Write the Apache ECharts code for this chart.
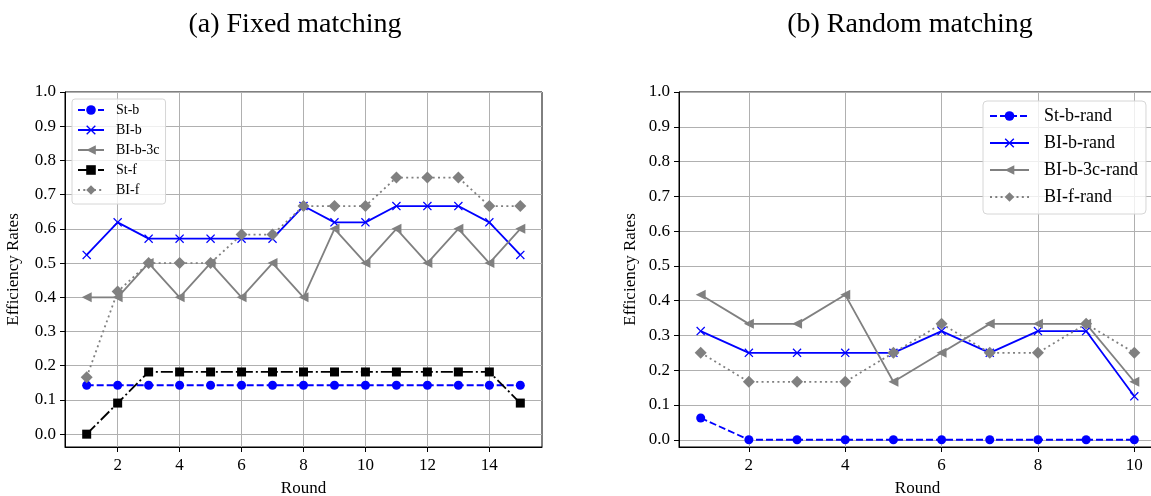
<!DOCTYPE html>
<html>
<head>
<meta charset="utf-8">
<script src="https://cdn.jsdelivr.net/npm/echarts@6/dist/echarts.min.js"></script>
<style>
  html, body { margin: 0; padding: 0; background: #fff; }
  #main { width: 1151px; height: 496px; }
</style>
</head>
<body>
<div id="main"></div>
<script>
// fixed matching, rounds 1..15
var roundsFixed = [1, 2, 3, 4, 5, 6, 7, 8, 9, 10, 11, 12, 13, 14, 15];
var stB   = [0.1429, 0.1429, 0.1429, 0.1429, 0.1429, 0.1429, 0.1429, 0.1429, 0.1429, 0.1429, 0.1429, 0.1429, 0.1429, 0.1429, 0.1429];
var biB   = [0.5238, 0.6190, 0.5714, 0.5714, 0.5714, 0.5714, 0.5714, 0.6667, 0.6190, 0.6190, 0.6667, 0.6667, 0.6667, 0.6190, 0.5238];
var biB3c = [0.4, 0.4, 0.5, 0.4, 0.5, 0.4, 0.5, 0.4, 0.6, 0.5, 0.6, 0.5, 0.6, 0.5, 0.6];
var stF   = [0.0, 0.0909, 0.1818, 0.1818, 0.1818, 0.1818, 0.1818, 0.1818, 0.1818, 0.1818, 0.1818, 0.1818, 0.1818, 0.1818, 0.0909];
var biF   = [0.1667, 0.4167, 0.5, 0.5, 0.5, 0.5833, 0.5833, 0.6667, 0.6667, 0.6667, 0.75, 0.75, 0.75, 0.6667, 0.6667];

// random matching, rounds 1..10
var roundsRand = [1, 2, 3, 4, 5, 6, 7, 8, 9, 10];
var stBRand    = [0.0625, 0, 0, 0, 0, 0, 0, 0, 0, 0];
var biBRand    = [0.3125, 0.25, 0.25, 0.25, 0.25, 0.3125, 0.25, 0.3125, 0.3125, 0.125];
var biB3cRand  = [0.4167, 0.3333, 0.3333, 0.4167, 0.1667, 0.25, 0.3333, 0.3333, 0.3333, 0.1667];
var biFRand    = [0.25, 0.1667, 0.1667, 0.1667, 0.25, 0.3333, 0.25, 0.25, 0.3333, 0.25];

var yTicks = [0, 0.1, 0.2, 0.3, 0.4, 0.5, 0.6, 0.7, 0.8, 0.9, 1.0];
var xTicksFixed = [2, 4, 6, 8, 10, 12, 14];
var xTicksRand = [2, 4, 6, 8, 10];

var serif = 'Liberation Serif';
var xMark = 'path://M0,1L1,0L5,4L9,0L10,1L6,5L10,9L9,10L5,6L1,10L0,9L4,5Z';
var triLeft = 'path://M0,5L9,0L9,10Z';

function pairs(xs, ys) {
    return xs.map(function (x, i) { return [x, ys[i]]; });
}

function mkSeries(name, idx, xs, ys, color, symbol, size, lineType) {
    return {
        name: name,
        type: 'line',
        xAxisIndex: idx,
        yAxisIndex: idx,
        data: pairs(xs, ys),
        symbol: symbol,
        symbolSize: size,
        showAllSymbol: true,
        itemStyle: { color: color },
        lineStyle: { color: color, width: 1.8, type: lineType },
        emphasis: { disabled: true }
    };
}

function mkX(idx, min, max, split, ticks) {
    return {
        type: 'value',
        gridIndex: idx,
        min: min,
        max: max,
        splitNumber: split,
        name: 'Round',
        nameLocation: 'middle',
        nameGap: 33,
        nameTextStyle: { fontFamily: serif, fontSize: 17, color: '#000' },
        axisLine: { onZero: false, lineStyle: { color: '#000', width: 1 } },
        axisTick: { show: true, length: 5, customValues: ticks, lineStyle: { color: '#000' } },
        axisLabel: { customValues: ticks, fontFamily: serif, fontSize: 17, color: '#000', margin: 10 },
        splitLine: { show: true, lineStyle: { color: '#b0b0b0', width: 1 } }
    };
}

function mkY(idx, min, gap) {
    return {
        type: 'value',
        gridIndex: idx,
        min: min,
        max: 1.0,
        splitNumber: 10,
        name: 'Efficiency Rates',
        nameLocation: 'middle',
        nameGap: gap,
        nameTextStyle: { fontFamily: serif, fontSize: 17, color: '#000' },
        axisLine: { show: true, lineStyle: { color: '#000', width: 1 } },
        axisTick: { show: true, length: 5, customValues: yTicks, lineStyle: { color: '#000' } },
        axisLabel: {
            customValues: yTicks, fontFamily: serif, fontSize: 17, color: '#000', margin: 9,
            formatter: function (v) { return v.toFixed(1); }
        },
        splitLine: { show: true, lineStyle: { color: '#b0b0b0', width: 1 } }
    };
}

var option = {
    animation: false,
    backgroundColor: '#fff',
    title: [
        { text: '(a) Fixed matching', left: 290, top: 6, textAlign: 'center',
          textStyle: { fontFamily: serif, fontSize: 28, fontWeight: 'normal', color: '#000' } },
        { text: '(b) Random matching', left: 905, top: 6, textAlign: 'center',
          textStyle: { fontFamily: serif, fontSize: 28, fontWeight: 'normal', color: '#000' } }
    ],
    grid: [
        { left: 65, right: 609, top: 92, bottom: 49, outerBoundsMode: 'none',
          show: true, borderColor: '#000', borderWidth: 1 },
        { left: 679, right: -5, top: 92, bottom: 49, outerBoundsMode: 'none',
          show: true, borderColor: '#000', borderWidth: 1 }
    ],
    legend: [
        {
            data: ['St-b', 'BI-b', 'BI-b-3c', 'St-f', 'BI-f'],
            orient: 'vertical', left: 72, top: 99,
            itemWidth: 26, itemHeight: 12, itemGap: 6,
            padding: [4, 6, 7, 5],
            borderColor: '#d6d6d6', borderWidth: 1, borderRadius: 3,
            backgroundColor: 'rgba(255,255,255,0.8)',
            textStyle: { fontFamily: serif, fontSize: 14, color: '#000', padding: [0, 0, 0, 7] }
        },
        {
            data: ['St-b-rand', 'BI-b-rand', 'BI-b-3c-rand', 'BI-f-rand'],
            orient: 'vertical', left: 983, top: 101,
            itemWidth: 39, itemHeight: 12, itemGap: 9,
            padding: [6, 8, 8, 6],
            borderColor: '#d6d6d6', borderWidth: 1, borderRadius: 4,
            backgroundColor: 'rgba(255,255,255,0.8)',
            textStyle: { fontFamily: serif, fontSize: 18, color: '#000', padding: [0, 0, 0, 10] }
        }
    ],
    xAxis: [
        mkX(0, 0.3, 15.7, 7, xTicksFixed),
        mkX(1, 0.55, 10.45, 5, xTicksRand)
    ],
    yAxis: [
        mkY(0, -0.0375, 43),
        mkY(1, -0.0208, 40)
    ],
    series: [
        mkSeries('St-b', 0, roundsFixed, stB, '#0000ff', 'circle', 9, [7, 3]),
        mkSeries('BI-b', 0, roundsFixed, biB, '#0000ff', xMark, 9, 'solid'),
        mkSeries('BI-b-3c', 0, roundsFixed, biB3c, '#808080', triLeft, 10, 'solid'),
        mkSeries('St-f', 0, roundsFixed, stF, '#000000', 'rect', 9, [12, 3, 2, 3]),
        mkSeries('BI-f', 0, roundsFixed, biF, '#808080', 'diamond', 12, [2, 3.3]),
        mkSeries('St-b-rand', 1, roundsRand, stBRand, '#0000ff', 'circle', 9, [7, 3]),
        mkSeries('BI-b-rand', 1, roundsRand, biBRand, '#0000ff', xMark, 9, 'solid'),
        mkSeries('BI-b-3c-rand', 1, roundsRand, biB3cRand, '#808080', triLeft, 10, 'solid'),
        mkSeries('BI-f-rand', 1, roundsRand, biFRand, '#808080', 'diamond', 12, [2, 3.3])
    ]
};

var myChart = echarts.init(document.getElementById('main'));
myChart.setOption(option);
</script>
</body>
</html>
